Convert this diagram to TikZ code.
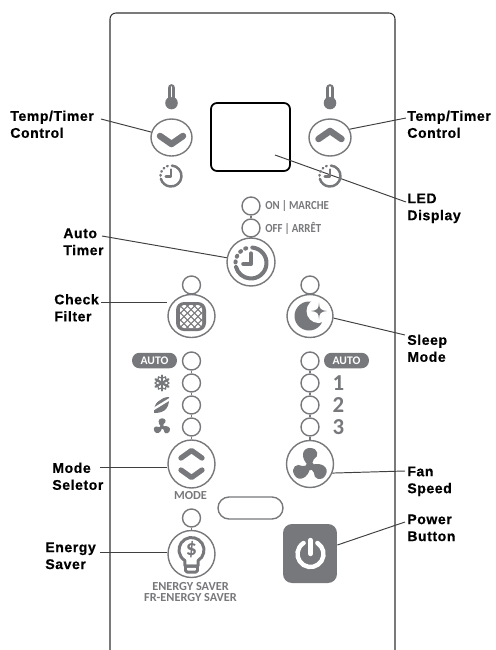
\documentclass[tikz,border=0pt]{standalone}
\usepackage{fontspec}
\usetikzlibrary{shapes.geometric}
\newfontfamily\calloutfont[LetterSpace=4,BoldFeatures={FakeBold=.5}]{Liberation Sans}
\newfontfamily\panelfont{Carlito}
\newfontfamily\ledfont[FakeStretch=.88]{Carlito}
\definecolor{panelgray}{HTML}{77787B}
\tikzset{
 callout/.style={inner sep=0,anchor=west,align=left,text=black,font=\calloutfont\bfseries\fontsize{8}{9.65}\selectfont},
 leader/.style={draw=black!75,line width=.55pt},
 led/.style={circle,draw=panelgray,line width=.8pt,inner sep=0,minimum size=.36cm},
 knob/.style={ellipse,draw=panelgray,line width=.8pt,inner sep=0},
 chain/.style={draw=panelgray,line width=.8pt},
 glyph/.style={color=panelgray,line cap=round,line join=round},
 legend/.style={text=panelgray,inner sep=0,font=\panelfont\bfseries\fontsize{7}{6.3}\selectfont},
 ledtext/.style={text=panelgray,inner sep=0,anchor=west,font=\ledfont\bfseries\fontsize{7}{7}\selectfont},
 pill/.style={rectangle,rounded corners=.15cm,fill=panelgray,text=white,inner sep=0,minimum width=.9cm,minimum height=.31cm,font=\panelfont\bfseries\fontsize{6.6}{7}\selectfont},
 digit/.style={text=panelgray,inner sep=0,font=\panelfont\bfseries\fontsize{13}{13}\selectfont},
 thermo/.pic={
  \fill[panelgray] (0,0) circle (6.3);
  \draw[glyph,line width=4.4pt] (0,0)--(0,15);
  \draw[white,line width=1.1pt,line cap=round] (0,6.5)--(0,16);
 },
 clockface/.pic={
  \draw[glyph] (85:1) arc (85:-165:1);
  \foreach \a in {110,132,154,176} \draw[glyph] (\a-2:1) arc (\a-2:\a+2:1);
  \draw[glyph] (0,.62)--(0,-.05)--(-.5,-.05);
 },
 blades/.pic={
  \foreach \a in {0,120,240}
   \fill[panelgray,rotate=\a] (-2,1) .. controls (-10,8) and (-9,19) .. (0,19) .. controls (9,19) and (10,10) .. (4,7) .. controls (2,5.5) and (2.5,2) .. (3,0) -- cycle;
  \fill[panelgray] (0,0) circle (4.5);
 }
}
\begin{document}
\begin{tikzpicture}[x=.02cm,y=.02cm]
 \useasboundingbox (0,0) rectangle (495,-650);
 \draw[black!80,line width=.6pt,rounded corners=.12cm] (110,-650)--(110,-13)--(395,-13)--(395,-650);

 \node[callout] (lblTempL) at (10,-124.3) {Temp/Timer\\Control};
 \node[callout] (lblTempR) at (407,-124.3) {Temp/Timer\\Control};
 \node[callout] (lblDisplay) at (407,-208.3) {LED\\Display};
 \node[callout] (lblAuto) at (63,-241.8) {Auto\\Timer};
 \node[callout] (lblCheck) at (54,-307.8) {Check\\Filter};
 \node[callout] (lblSleep) at (407,-348.3) {Sleep\\Mode};
 \node[callout] (lblMode) at (52,-476.3) {Mode\\Seletor};
 \node[callout] (lblFan) at (407,-481.3) {Fan\\Speed};
 \node[callout] (lblPower) at (407,-527.8) {Power\\Button};
 \node[callout] (lblEnergy) at (45,-555.8) {Energy\\Saver};

 \node[knob,minimum width=.82cm,minimum height=.74cm] (btnDown) at (171.5,-137.5) {};
 \node[knob,minimum width=.84cm,minimum height=.74cm] (btnUp) at (330,-137.5) {};
 \node[draw=black,line width=1pt,rounded corners=.12cm,inner sep=0,minimum width=1.58cm,minimum height=1.36cm] (display) at (250.5,-137) {};
 \node[knob,minimum width=.96cm,minimum height=.96cm] (btnTimer) at (251,-262) {};
 \node[knob,minimum width=.94cm,minimum height=.86cm] (btnFilter) at (191.5,-316) {};
 \node[knob,minimum width=.92cm,minimum height=.86cm] (btnSleep) at (310,-316) {};
 \node[knob,minimum width=.94cm,minimum height=.96cm] (btnMode) at (191.5,-464) {};
 \node[knob,minimum width=.94cm,minimum height=.94cm] (btnFan) at (310,-464) {};
 \node[knob,minimum width=.94cm,minimum height=.94cm] (btnEnergy) at (191.5,-554) {};
 \node[rectangle,fill=panelgray,rounded corners=.18cm,inner sep=0,minimum width=1.08cm,minimum height=1.18cm] (btnPower) at (310,-553.5) {};
 \node[rectangle,rounded corners=.22cm,draw=panelgray,line width=.8pt,inner sep=0,minimum width=1.3cm,minimum height=.44cm] (slot) at (250.5,-508) {};

 \node[led] (ledOn) at (251,-206) {};
 \node[led] (ledOff) at (251,-228) {};
 \node[led] (ledFilter) at (191.5,-285) {};
 \node[led] (ledSleep) at (310,-285) {};
 \node[led] (ledEnergy) at (191.5,-518) {};
 \foreach \n/\y in {1/361,2/383,3/405,4/427} {
  \node[led] (ledL\n) at (191.5,-\y) {};
  \node[led] (ledR\n) at (310,-\y) {};
 }
 \draw[chain] (ledOn)--(ledOff);
 \draw[chain] (ledOff)--(btnTimer);
 \draw[chain] (ledFilter)--(btnFilter);
 \draw[chain] (ledSleep)--(btnSleep);
 \draw[chain] (ledEnergy)--(btnEnergy);
 \foreach \s in {L,R} {
  \draw[chain] (led\s1)--(led\s2);
  \draw[chain] (led\s2)--(led\s3);
  \draw[chain] (led\s3)--(led\s4);
 }
 \draw[chain] (ledL4)--(btnMode);
 \draw[chain] (ledR4)--(btnFan);

 \coordinate (endTempL) at (101,-119);
 \coordinate (endTempR) at (406,-118);
 \coordinate (endDisplay) at (406,-202);
 \coordinate (startDisplay) at (275,-155);
 \coordinate (endAuto) at (102,-236);
 \coordinate (endCheck) at (101,-302);
 \coordinate (endSleep) at (405,-335);
 \coordinate (endMode) at (100,-467);
 \coordinate (endFan) at (405,-471);
 \coordinate (endPower) at (405,-522);
 \coordinate (endEnergy) at (100,-552);
 \draw[leader] (endTempL)--(btnDown.165);
 \draw[leader] (endTempR)--(btnUp.23);
 \draw[leader] (startDisplay)--(endDisplay);
 \draw[leader] (endAuto)--(btnTimer.170);
 \draw[leader] (endCheck)--(btnFilter.west|-endCheck);
 \draw[leader] (endSleep)--(btnSleep.-5);
 \draw[leader] (endMode)--(btnMode.west|-endMode);
 \draw[leader] (endFan)--(btnFan.-22);
 \draw[leader] (endPower)--(btnPower.east|-0,-545);
 \draw[leader] (endEnergy)--(btnEnergy.west|-endEnergy);

 \pic at (171.5,-103) {thermo};
 \pic at (330,-103) {thermo};
 \pic[line width=1.4pt,scale=10.5] at (171,-176) {clockface};
 \pic[line width=1.4pt,scale=10.5] at (330,-176) {clockface};
 \pic[line width=2.3pt,scale=15.5] at (251,-263) {clockface};
 \draw[glyph,line width=3.7pt] (160,-136)--(171.5,-144)--(183,-136);
 \draw[glyph,line width=3.7pt] (318.5,-139)--(330,-131)--(341.5,-139);
 \draw[glyph,line width=3pt] (181,-458)--(191.5,-450.5)--(202,-458);
 \draw[glyph,line width=3pt] (181,-470)--(191.5,-477.5)--(202,-470);

 \fill[panelgray,rounded corners=.16cm] (176,-302) rectangle (206,-331);
 \begin{scope}
  \clip[rounded corners=.08cm] (180,-305) rectangle (202,-328);
  \fill[white] (176,-302) rectangle (206,-331);
  \foreach \d in {-63,-56,...,63} {
   \draw[panelgray,line width=.6pt] (191+\d-30,-346.5)--(191+\d+30,-286.5);
   \draw[panelgray,line width=.6pt] (191+\d-30,-286.5)--(191+\d+30,-346.5);
  }
 \end{scope}

 \fill[panelgray] (309,-316) circle (14.5);
 \fill[white] (318.5,-311) circle (12);
 \fill[panelgray] (319,-302.5)..controls (319.5,-309) and (320,-310).. (327,-311)..controls (320,-312) and (319.5,-313).. (319,-319.5)..controls (318.5,-313) and (318,-312).. (311,-311)..controls (318,-310) and (318.5,-309)..cycle;

 \pic[scale=.95] at (310,-466) {blades};
 \pic[scale=.46] at (162,-427) {blades};

 \foreach \a in {30,90,150} \draw[glyph,line width=1.3pt] (162,-383)+(\a:7.5)--+(\a+180:7.5);
 \foreach \a in {30,90,150,210,270,330} {
  \draw[glyph,line width=.7pt] (162,-383)+(\a:5)--+(\a+32:7);
  \draw[glyph,line width=.7pt] (162,-383)+(\a:5)--+(\a-32:7);
 }
 \fill[panelgray] (154,-413)..controls (160,-413) and (170,-412)..(169,-397)..controls (162,-397) and (153,-402)..cycle;
 \draw[white,line width=1.3pt] (152,-410)--(170,-399);
 \draw[white,line width=1.3pt] (152,-404)--(164,-396);

 \draw[glyph,line width=1.7pt] (191.5,-550)+(-58:12.5) arc (-58:238:12.5)--(185,-566)--(198,-566)--cycle;
 \draw[glyph,line width=1.7pt,rounded corners=.03cm] (185.5,-566) rectangle (197.5,-572);
 \node[text=panelgray,inner sep=0,font=\panelfont\bfseries\fontsize{12.5}{13}\selectfont] (dollar) at (191.5,-550) {\$};

 \draw[white,line width=2.5pt,line cap=round] (310.5,-554)+(58:13) arc (58:-238:13);
 \draw[white,line width=2.5pt,line cap=round] (310.5,-540)--(310.5,-554);

 \node[pill] (autoL) at (154.5,-360.5) {AUTO};
 \node[pill] (autoR) at (346.5,-360.5) {AUTO};
 \node[digit] (digitA) at (338.5,-383) {1};
 \node[digit] (digitB) at (338.5,-405) {2};
 \node[digit] (digitC) at (338.5,-427) {3};
 \node[ledtext] (txtOn) at (265,-206) {ON\,|\,MARCHE};
 \node[ledtext] (txtOff) at (265,-228) {OFF\,|\,ARRÊT};
 \node[legend] (txtMode) at (190.5,-496) {MODE};
 \node[legend,align=center] (txtEnergy) at (190.5,-592) {ENERGY SAVER\\FR-ENERGY SAVER};
\end{tikzpicture}
\end{document}
